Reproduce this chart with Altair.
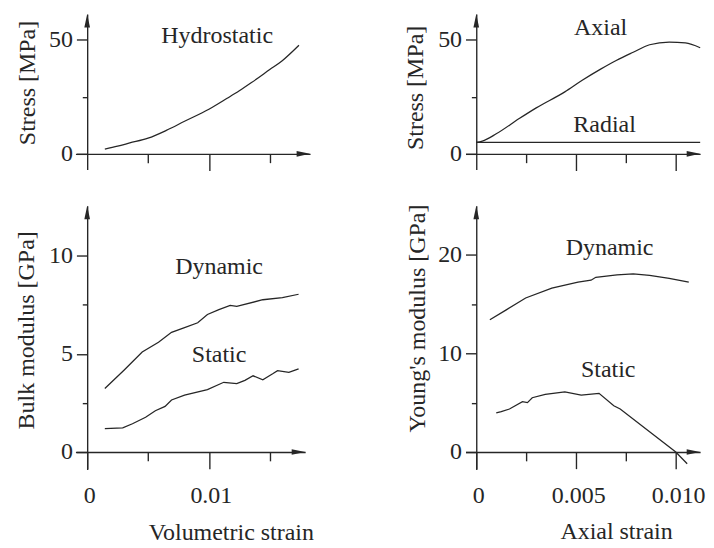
import altair as alt
import pandas as pd

FONT = "Liberation Serif"
INK = "#262626"
FS = 24.5

# ---------------- data ----------------
# Top-left: hydrostatic loading, stress [MPa] vs volumetric strain
hyd_strain = [0.00145, 0.0025, 0.0035, 0.005, 0.0065, 0.008, 0.01, 0.0115, 0.0125, 0.0135, 0.015, 0.016, 0.0174]
hyd_stress = [2.1, 3.4, 4.8, 6.9, 10.3, 14.3, 19.6, 24.4, 27.7, 31.3, 37.0, 40.8, 47.7]

# Top-right: triaxial loading, stress [MPa] vs axial strain
axial_strain = [0.0, 0.0003, 0.001, 0.00215, 0.003, 0.00443, 0.0053, 0.00622, 0.007, 0.00785, 0.00867, 0.00965, 0.01046, 0.0112]
axial_stress = [5.0, 5.6, 8.8, 15.5, 20.2, 27.2, 32.3, 37.2, 41.0, 44.6, 47.9, 49.1, 48.7, 46.6]
radial_strain = [0.0, 0.0112]
radial_stress = [5.0, 5.0]

# Bottom-left: bulk modulus [GPa] vs volumetric strain
bulk_dyn_strain = [0.00145, 0.003, 0.00452, 0.00586, 0.00693, 0.008, 0.00908, 0.00988, 0.01082, 0.01175, 0.01229, 0.01443, 0.01604, 0.01737]
bulk_dyn = [3.23, 4.15, 5.09, 5.59, 6.09, 6.33, 6.58, 7.0, 7.25, 7.46, 7.41, 7.75, 7.86, 8.03]
bulk_sta_strain = [0.00145, 0.00292, 0.00372, 0.0048, 0.0056, 0.0064, 0.00693, 0.008, 0.00988, 0.01122, 0.01229, 0.01296, 0.01363, 0.01443, 0.01524, 0.01564, 0.01657, 0.01737]
bulk_sta = [1.19, 1.23, 1.44, 1.77, 2.1, 2.32, 2.65, 2.9, 3.18, 3.55, 3.48, 3.65, 3.88, 3.68, 3.98, 4.14, 4.05, 4.23]

# Bottom-right: Young's modulus [GPa] vs axial strain
young_dyn_strain = [0.00068, 0.0015, 0.00247, 0.00378, 0.00509, 0.00574, 0.00598, 0.00704, 0.00785, 0.00867, 0.00965, 0.01063]
young_dyn = [13.4, 14.4, 15.6, 16.6, 17.2, 17.4, 17.7, 17.95, 18.05, 17.9, 17.6, 17.2]
young_sta_strain = [0.001, 0.00125, 0.00166, 0.00231, 0.00256, 0.0028, 0.00345, 0.00443, 0.00525, 0.00614, 0.00688, 0.0072, 0.00867, 0.00998, 0.01055]
young_sta = [3.96, 4.1, 4.36, 5.1, 5.0, 5.5, 5.84, 6.1, 5.77, 5.94, 4.69, 4.36, 2.05, 0.0, -1.19]

# in-plot annotations (text, strain, value)
ann_tl = (["Hydrostatic"], [0.01068], [48.7])
ann_tr = (["Axial", "Radial"], [0.00622, 0.00642], [52.1, 9.6])
ann_bl = (["Dynamic", "Static"], [0.01084, 0.01084], [9.05, 4.58])
ann_br = (["Dynamic", "Static"], [0.00667, 0.0066], [20.0, 7.62])

UP = "M0,0L0.21,1L-0.21,1Z"
RIGHT = "M0,0L-1,0.21L-1,-0.21Z"


def expr_in(vals):
    return "indexof([" + ",".join(repr(v) for v in vals) + "], datum.value) >= 0"


def label_expr(mapping):
    parts = []
    for v, s in mapping.items():
        parts.append(f"datum.value == {v!r} ? '{s}' : ")
    return "".join(parts) + "''"


def panel(series, ann, w, h, x0, y0, kx, ky,
          xvals, xmajor, xlabels, yvals, ymajor, ylabels,
          ytitle, ytx, yty, xtitle=None, xtx=0, xty=0, interp="linear"):
    xdom = [-x0 / kx, (w - x0) / kx]
    ydom = [-y0 / ky, (h - y0) / ky]

    common = dict(grid=False, domainColor=INK, domainWidth=1.4, tickColor=INK, tickWidth=1.4,
                  labelFont=FONT, labelFontSize=FS, labelColor=INK, labelFlush=False,
                  labelOverlap=False, titleFont=FONT, titleFontSize=FS, titleFontWeight="normal",
                  titleColor=INK)

    xkw = dict(common)
    xkw.update(values=xvals, offset=-y0,
               tickSize={"condition": {"test": expr_in(xmajor), "value": 17}, "value": 9})
    if xlabels:
        xkw.update(labelExpr=label_expr(xlabels), labelBaseline="alphabetic", labelPadding=35,
                   labelOffset=2)
    else:
        xkw.update(labels=False)
    if xtitle:
        xkw.update(title=xtitle, titleX=xtx, titleY=xty, titleAlign="center",
                   titleBaseline="alphabetic", titleAnchor="start")
    else:
        xkw.update(title=None)

    ykw = dict(common)
    ykw.update(values=yvals, offset=-x0, labelExpr=label_expr(ylabels), labelPadding=4,
               tickSize={"condition": {"test": expr_in(ymajor), "value": 11}, "value": 5},
               title=ytitle, titleX=ytx, titleY=yty, titleAngle=270, titleAlign="center",
               titleBaseline="middle")

    X = alt.X("x:Q", scale=alt.Scale(domain=xdom, nice=False, zero=False), axis=alt.Axis(**xkw))
    Y = alt.Y("y:Q", scale=alt.Scale(domain=ydom, nice=False, zero=False), axis=alt.Axis(**ykw))

    rows = []
    for name, xs, ys in series:
        for a, b in zip(xs, ys):
            rows.append({"x": a, "y": b, "s": name})
    df = pd.DataFrame(rows)

    lines = alt.Chart(df).mark_line(color=INK, strokeWidth=1.3, interpolate=interp).encode(
        x=X, y=Y, detail="s:N")

    adf = pd.DataFrame({"t": ann[0], "x": ann[1], "y": ann[2]})
    texts = alt.Chart(adf).mark_text(font=FONT, fontSize=FS, color=INK, align="center",
                                     baseline="alphabetic").encode(x=X, y=Y, text="t:N")

    arr = pd.DataFrame({"x": [0.0, xdom[1]], "y": [ydom[1], 0.0], "d": ["up", "right"]})
    arrows = alt.Chart(arr).mark_point(filled=True, color=INK, opacity=1, size=760, strokeWidth=0).encode(
        x=X, y=Y,
        shape=alt.Shape("d:N", scale=alt.Scale(domain=["up", "right"], range=[UP, RIGHT]), legend=None))

    return alt.layer(lines, texts, arrows).properties(width=w, height=h)


tl = panel([("hyd", hyd_strain, hyd_stress)], ann_tl, 240, 159, 12, 16, 12450, 2.33,
           [0.005, 0.01, 0.015], [0.01], None, [0, 25, 50], [0, 50], {0: "0", 50: "50"},
           "Stress [MPa]", -61, 70, interp="monotone")
tr = panel([("ax", axial_strain, axial_stress), ("rad", radial_strain, radial_stress)], ann_tr,
           240, 159, 11, 16, 20450, 2.33,
           [0.0025, 0.005, 0.0075, 0.01], [0.005, 0.01], None, [0, 25, 50], [0, 50], {0: "0", 50: "50"},
           "Stress [MPa]", -62, 75, interp="monotone")
bl = panel([("dyn", bulk_dyn_strain, bulk_dyn), ("sta", bulk_sta_strain, bulk_sta)], ann_bl,
           235, 270, 12, 18, 12450, 20.1,
           [0, 0.005, 0.01, 0.015], [0, 0.01], {0: "0", 0.01: "0.01"},
           [0, 2.5, 5, 7.5, 10], [0, 5, 10], {0: "0", 5: "5", 10: "10"},
           "Bulk modulus [GPa]", -62, 127, "Volumetric strain", 159, 89)
br = panel([("dyn", young_dyn_strain, young_dyn), ("sta", young_sta_strain, young_sta)], ann_br,
           240, 270, 11, 18, 20450, 10.1,
           [0, 0.0025, 0.005, 0.0075, 0.01], [0, 0.005, 0.01], {0: "0", 0.005: "0.005", 0.01: "0.010"},
           [0, 5, 10, 15, 20], [0, 10, 20], {0: "0", 10: "10", 20: "20"},
           "Young's modulus [GPa]", -60, 115, "Axial strain", 154, 88)

chart = alt.concat(tl, tr, bl, br, columns=2, spacing={"row": 37, "column": 159},
                   bounds="flush", align="each").properties(
    padding={"left": 5, "top": 0, "right": 0, "bottom": 0}, background="white"
).configure_view(stroke=None)

chart.save("out.html", embed_options={"renderer": "svg", "actions": False})
